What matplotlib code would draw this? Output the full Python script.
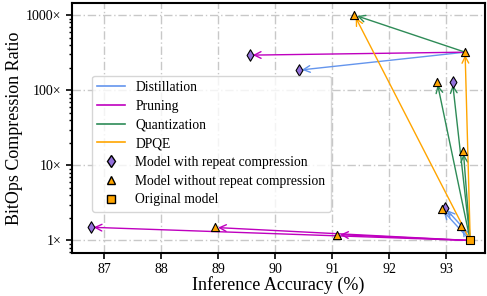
import numpy as np
import matplotlib.pyplot as plt
from matplotlib.lines import Line2D
from matplotlib.ticker import FuncFormatter, FixedLocator, LogLocator, NullFormatter

plt.rcParams['font.family'] = ['Liberation Serif', 'DejaVu Serif']

# original model
orig_acc = 93.42
orig_ratio = 1.0

# models obtained with repeat compression (diamonds)
rep_acc = [89.56, 90.42, 86.77, 92.98, 93.11]
rep_ratio = [293, 185, 1.5, 2.7, 128]

# models without repeat compression (triangles)
norep_acc = [93.33, 91.39, 91.09, 88.95, 92.92, 93.26, 92.84, 93.30]
norep_ratio = [321, 1000, 1.2, 1.49, 2.6, 1.58, 128, 15.4]

# compression steps: start acc, start ratio, end acc, end ratio
distill_x0 = [93.33, 93.42, 93.42, 93.26]
distill_y0 = [321, 1, 1, 1.58]
distill_x1 = [90.42, 92.92, 93.26, 92.98]
distill_y1 = [185, 2.6, 1.58, 2.7]

prune_x0 = [93.33, 93.42, 93.42, 93.42]
prune_y0 = [321, 1, 1, 1]
prune_x1 = [89.56, 91.09, 88.95, 86.77]
prune_y1 = [293, 1.2, 1.49, 1.5]

quant_x0 = [93.33, 93.42, 93.42, 93.42]
quant_y0 = [321, 1, 1, 1]
quant_x1 = [91.39, 92.84, 93.11, 93.30]
quant_y1 = [1000, 128, 128, 15.4]

dpqe_x0 = [93.42, 93.42]
dpqe_y0 = [1, 1]
dpqe_x1 = [91.39, 93.33]
dpqe_y1 = [1000, 321]

methods = [
    ('Distillation', 'cornflowerblue', distill_x0, distill_y0, distill_x1, distill_y1),
    ('Pruning', 'm', prune_x0, prune_y0, prune_x1, prune_y1),
    ('Quantization', 'seagreen', quant_x0, quant_y0, quant_x1, quant_y1),
    ('DPQE', 'orange', dpqe_x0, dpqe_y0, dpqe_x1, dpqe_y1),
]

fig = plt.figure(figsize=(4.87, 2.96), dpi=100)
ax = fig.add_axes([0.148, 0.145, 0.848, 0.845])

for name, color, x0, y0, x1, y1 in methods:
    for a, b, c, d in zip(x0, y0, x1, y1):
        ax.annotate('', xy=(c, d), xytext=(a, b),
                    arrowprops=dict(arrowstyle='->', color=color, lw=1.0,
                                    shrinkA=0, shrinkB=2, mutation_scale=12),
                    zorder=2)

ax.scatter(rep_acc, rep_ratio, marker='d', s=34, color='mediumpurple',
           edgecolor='black', linewidth=0.8, zorder=3)
ax.scatter(norep_acc, norep_ratio, marker='^', s=34, color='orange',
           edgecolor='black', linewidth=0.8, zorder=3)
ax.scatter([orig_acc], [orig_ratio], marker='s', s=34, color='orange',
           edgecolor='black', linewidth=0.8, zorder=3)

ax.set_yscale('log')
ax.set_xlim(86.44, 93.68)
ax.set_ylim(0.68, 1450)
ax.set_xticks([87, 88, 89, 90, 91, 92, 93])
ax.yaxis.set_major_locator(FixedLocator([1, 10, 100, 1000]))
ax.yaxis.set_minor_locator(LogLocator(base=10, subs=np.arange(2, 10)))
ax.yaxis.set_minor_formatter(NullFormatter())
ax.yaxis.set_major_formatter(FuncFormatter(lambda v, p: f'{v:g}×'))
ax.tick_params(axis='both', labelsize=10, width=1.2, length=4)
ax.tick_params(axis='y', which='minor', width=1.0, length=2.5)

ax.grid(True, which='major', linestyle=(0, (6, 2, 1, 2)), color='#c8c8c8', linewidth=1.0)
for s in ax.spines.values():
    s.set_linewidth(1.5)

ax.set_xlabel('Inference Accuracy (%)', fontsize=13, labelpad=0)
ax.set_ylabel('BitOps Compression Ratio', fontsize=13, labelpad=2)

handles = [Line2D([], [], color=c, lw=1.2, label=n) for n, c, *_ in methods]
handles += [
    Line2D([], [], marker='d', ls='none', markersize=6, markerfacecolor='mediumpurple',
           markeredgecolor='black', label='Model with repeat compression'),
    Line2D([], [], marker='^', ls='none', markersize=6, markerfacecolor='orange',
           markeredgecolor='black', label='Model without repeat compression'),
    Line2D([], [], marker='s', ls='none', markersize=6, markerfacecolor='orange',
           markeredgecolor='black', label='Original model'),
]
ax.legend(handles=handles, loc='lower left', bbox_to_anchor=(0.048, 0.165),
          fontsize=9.8, labelspacing=0.42, borderaxespad=0)

fig.savefig('out.png', dpi=100)
